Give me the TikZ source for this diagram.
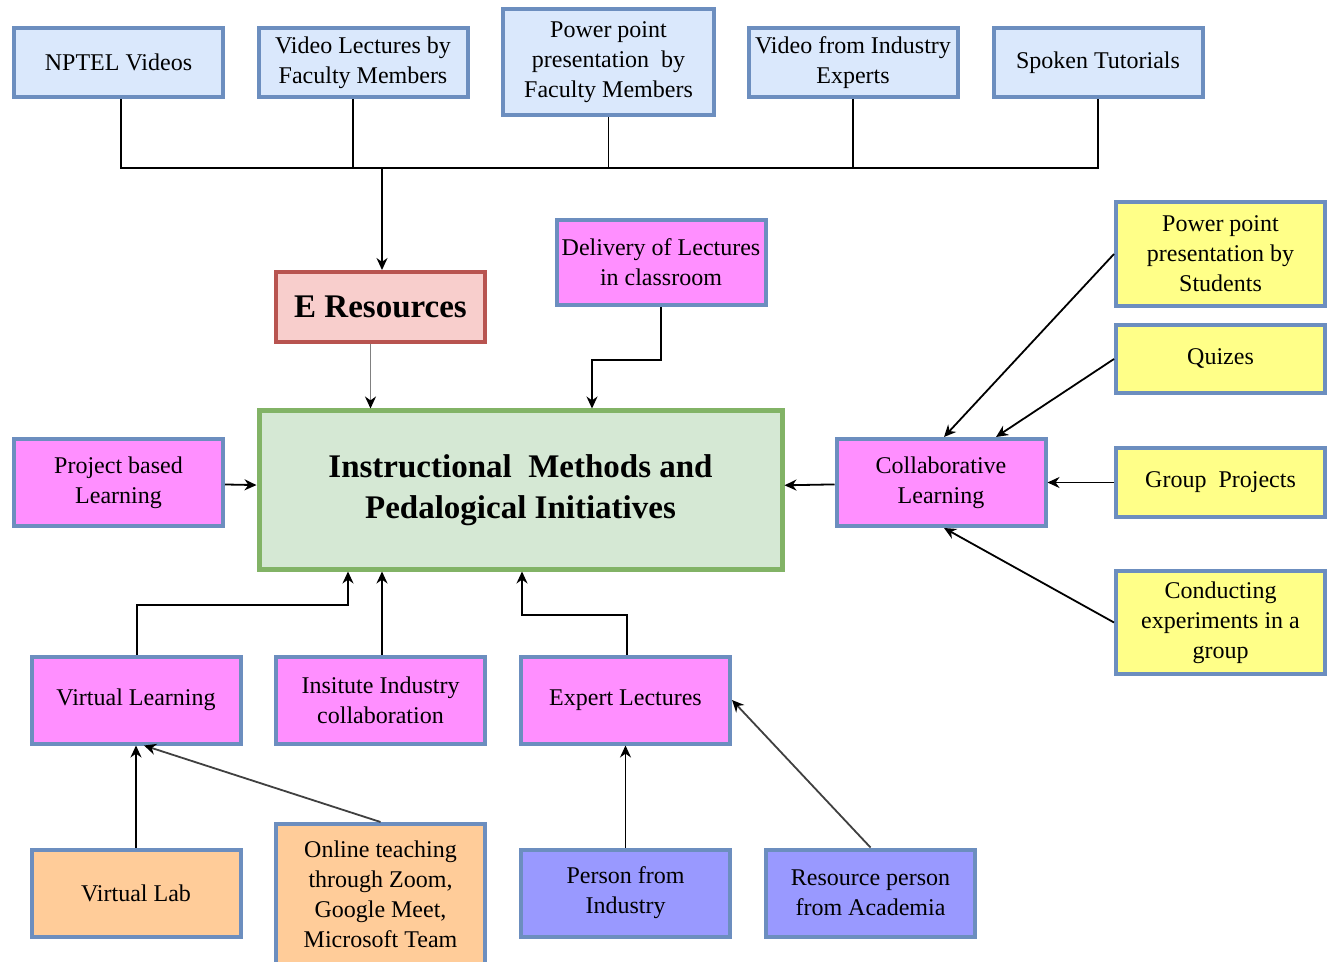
\documentclass[tikz,border=0pt]{standalone}
\usepackage{fontspec}
\setmainfont{Liberation Serif}
\usetikzlibrary{arrows.meta}

\definecolor{resfill}{HTML}{DAE8FC}
\definecolor{resline}{HTML}{6C8EBF}
\definecolor{erfill}{HTML}{F8CECC}
\definecolor{erline}{HTML}{B85450}
\definecolor{mainfill}{HTML}{D5E8D4}
\definecolor{mainline}{HTML}{82B366}
\definecolor{methfill}{HTML}{FF8FFF}
\definecolor{colfill}{HTML}{FFFF88}
\definecolor{labfill}{HTML}{FFCC99}
\definecolor{persfill}{HTML}{9999FF}

\tikzset{every picture/.style={line width=0.9pt}}
\tikzset{
  box/.style={draw=resline, line width=2pt, align=center, inner sep=1pt,
    minimum width=104.5pt, minimum height=34.5pt, font=\fontsize{12}{15}\selectfont},
  resbox/.style={box, fill=resfill},
  methbox/.style={box, fill=methfill, minimum height=43.5pt},
  colbox/.style={box, fill=colfill},
  labbox/.style={box, fill=labfill, minimum height=43.5pt},
  persbox/.style={box, fill=persfill, minimum height=43.5pt},
  arr/.style={-{Stealth[length=6pt,width=5.5pt,color=black]}},
}

\begin{document}
\begin{tikzpicture}[x=0.5pt,y=0.5pt,yscale=-1,xscale=1]
\useasboundingbox (0,0) rectangle (1333,962);
\fill[white] (0,0) rectangle (1333,962);
%Shape: Rectangle [id:top row]
\node[resbox] (nptel) at (118.5,62.5) {NPTEL Videos};
\node[resbox] (vidfac) at (363,62.5) {Video Lectures by\\Faculty Members};
\node[resbox, minimum width=105.5pt, minimum height=53pt] (pptfac) at (608.5,62) {Power point\\presentation~ by\\Faculty Members};
\node[resbox] (vidind) at (853,62.5) {Video from Industry\\Experts};
\node[resbox] (spoken) at (1098,62.5) {Spoken Tutorials};
%Shape: Rectangle [id:e resources]
\node[box, draw=erline, fill=erfill, minimum height=35pt, font=\fontsize{16.5}{20}\selectfont\bfseries] (eres) at (380.5,307) {E Resources};
\node[methbox, minimum height=42.5pt] (deliv) at (661,262.5) {Delivery of Lectures\\in classroom};
%Shape: Rectangle [id:main]
\node[box, draw=mainline, fill=mainfill, line width=2.5pt, minimum width=261.5pt, minimum height=79pt,
  font=\fontsize{16.5}{20.5}\selectfont\bfseries] (main) at (520.5,490) {Instructional~~Methods and\\Pedalogical Initiatives};
\node[methbox] (pbl) at (118.5,482.5) {Project based\\Learning};
\node[methbox] (collab) at (941,482.5) {Collaborative\\Learning};
%Shape: Rectangle [id:right column]
\node[colbox, minimum height=52pt] (pptstu) at (1220.5,254) {Power point\\presentation by\\Students};
\node[colbox, minimum height=34pt] (quiz) at (1220.5,359) {Quizes};
\node[colbox] (group) at (1220.5,482.5) {Group~~Projects};
\node[colbox, minimum height=51.5pt] (conduct) at (1220.5,622.5) {Conducting\\experiments in a\\group};
%Shape: Rectangle [id:bottom rows]
\node[methbox] (vlearn) at (136,700) {Virtual Learning};
\node[methbox] (iic) at (380.5,700) {Insitute Industry\\collaboration};
\node[methbox] (expert) at (625.5,700) {Expert Lectures};
\node[labbox] (vlab) at (136,893) {Virtual Lab};
\node[labbox, minimum height=70.5pt] (online) at (380.5,894.5) {Online teaching\\through Zoom,\\Google Meet,\\Microsoft Team};
\node[persbox] (pind) at (625.5,893) {Person from\\Industry};
\node[persbox] (racad) at (870.5,893) {Resource person\\from Academia};

%Straight Lines [id:bus]
\coordinate (busl) at (121,168);
\coordinate (busr) at (1098,168);
\coordinate (buse) at (382,168);
\draw (nptel.south -| busl) -- (busl) -- (busr) -- (spoken.south);
\draw ([xshift=-5pt]vidfac.south) -- ([xshift=-5pt]vidfac.south |- busl);
\draw (pptfac.south) -- (pptfac.south |- busl);
\draw (vidind.south) -- (vidind.south |- busl);
\draw[arr] (buse) -- (buse |- eres.north);
%Straight Lines [id:into main]
\draw[arr, draw=black!50] ([xshift=-5pt]eres.south) -- ([xshift=-5pt]eres.south |- main.north);
\coordinate (delivbend) at (592,360);
\draw[arr] (deliv.south) |- (delivbend) -- (delivbend |- main.north);
\draw[arr] (pbl) -- (main);
\draw[arr] (collab) -- (main);
\coordinate (vlbend) at (348,605);
\draw[arr] ([xshift=0.5pt]vlearn.north) |- (vlbend) -- (vlbend |- main.south);
\draw[arr] ([xshift=0.75pt]iic.north) -- ([xshift=0.75pt]iic.north |- main.south);
\coordinate (exbend) at (522,615);
\draw[arr] ([xshift=0.75pt]expert.north) |- (exbend) -- (exbend |- main.south);
%Straight Lines [id:into collab]
\draw[arr] (pptstu.west) -- ([xshift=1.5pt]collab.north);
\draw[arr] (quiz.west) -- ([xshift=27.5pt]collab.north);
\draw[arr] (group) -- (collab);
\draw[arr] (conduct.west) -- ([xshift=1.5pt]collab.south);
%Straight Lines [id:lower]
\draw[arr] (vlab) -- (vlearn);
\draw[arr, draw=black!75] (online.north) -- ([xshift=4pt]vlearn.south);
\draw[arr] (pind) -- (expert);
\draw[arr, draw=black!75] (racad.north) -- (expert.east);
\end{tikzpicture}
\end{document}
